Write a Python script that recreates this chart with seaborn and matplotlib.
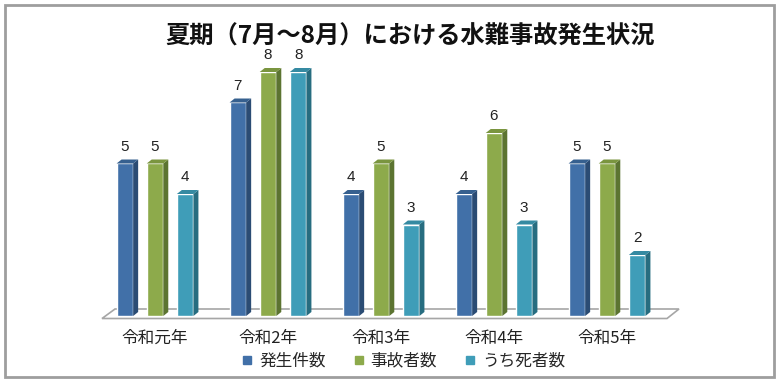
import numpy as np
import pandas as pd
import matplotlib
matplotlib.use("Agg")
import matplotlib.pyplot as plt
from matplotlib.patches import Polygon, Rectangle
from matplotlib.lines import Line2D
import seaborn as sns

years = ['令和元年', '令和2年', '令和3年', '令和4年', '令和5年']
series = ['発生件数', '事故者数', 'うち死者数']
incidents = [5, 7, 4, 4, 5]
victims = [5, 8, 5, 6, 5]
deaths = [4, 8, 3, 3, 2]

face_cols = ['#4170A8', '#8DAA4B', '#3F9DB8']
side_cols = ['#2B4C74', '#5C7431', '#276D80']
top_cols = ['#36608F', '#7A953F', '#358AA2']

df = pd.DataFrame({
    'year': years * 3,
    'series': [s for s in series for _ in years],
    'value': incidents + victims + deaths,
})

sns.set_style('white')
plt.rcParams['font.family'] = ['Noto Sans CJK JP', 'DejaVu Sans']

W, H = 778, 381
fig = plt.figure(figsize=(W / 100, H / 100), dpi=100)

# pixel geometry of the plot area
px_unit = 30.5      # pixels per value unit
x0_px, step_px = 155, 113
base_px = 316
ymax = 9.0
left_px, right_px = 102, 680
ax = fig.add_axes([left_px / W, (H - base_px) / H,
                   (right_px - left_px) / W, ymax * px_unit / H])
ax.patch.set_alpha(0)

sns.barplot(data=df, x='year', y='value', hue='series', hue_order=series,
            palette=face_cols, width=0.8, gap=0.45, legend=False,
            saturation=1, ax=ax, zorder=2)

ax.set_xlim((left_px - x0_px) / step_px, (right_px - x0_px) / step_px)
ax.set_ylim(0, ymax)

# floor
fl = Polygon([((102 - x0_px) / step_px, -2.5 / px_unit),
              ((667 - x0_px) / step_px, -2.5 / px_unit),
              ((679 - x0_px) / step_px, 7 / px_unit),
              ((115 - x0_px) / step_px, 7 / px_unit)],
             closed=True, facecolor='white', edgecolor='#A6A6A6',
             lw=1.2, zorder=0.5, clip_on=False)
ax.add_patch(fl)

# 3D sides and tops
dx, dy = 5 / step_px, 4 / px_unit
for k, cont in enumerate(ax.containers):
    for r in cont:
        x, w, h = r.get_x(), r.get_width(), r.get_height()
        side = Polygon([(x + w, 0), (x + w + dx, dy), (x + w + dx, h + dy), (x + w, h)],
                       closed=True, facecolor=side_cols[k], edgecolor='none', zorder=2.1)
        top = Polygon([(x, h), (x + w, h), (x + w + dx, h + dy), (x + dx, h + dy)],
                      closed=True, facecolor=top_cols[k], edgecolor='none', zorder=2.1)
        ax.add_patch(side)
        ax.add_patch(top)
    ax.bar_label(cont, padding=7, fontsize=11, color='#222222',
                 family=['Liberation Sans'])

for s in ax.spines.values():
    s.set_visible(False)
ax.set_yticks([])
ax.set_xlabel('')
ax.set_ylabel('')
ax.tick_params(axis='x', length=0, pad=10, labelsize=12, colors='#222222')

fig.text(410 / W, 1 - 37 / H, '夏期（7月～8月）における水難事故発生状況',
         ha='center', va='center', fontsize=17.5, fontweight='bold', color='#111111')

handles = [Line2D([], [], marker='s', ls='none', markersize=6,
                  markerfacecolor=c, markeredgecolor=c) for c in face_cols]
fig.legend(handles, series, loc='center', bbox_to_anchor=(403 / W, 1 - 361 / H),
           ncol=3, frameon=False, fontsize=12, handlelength=0.8,
           handletextpad=0.3, columnspacing=1.6, borderpad=0)

fig.add_artist(Rectangle((5 / W, 1 - 377 / H), 769 / W, 372 / H,
                         transform=fig.transFigure, fill=False,
                         edgecolor='#9E9E9E', lw=2))

fig.savefig('out.png', dpi=100)
